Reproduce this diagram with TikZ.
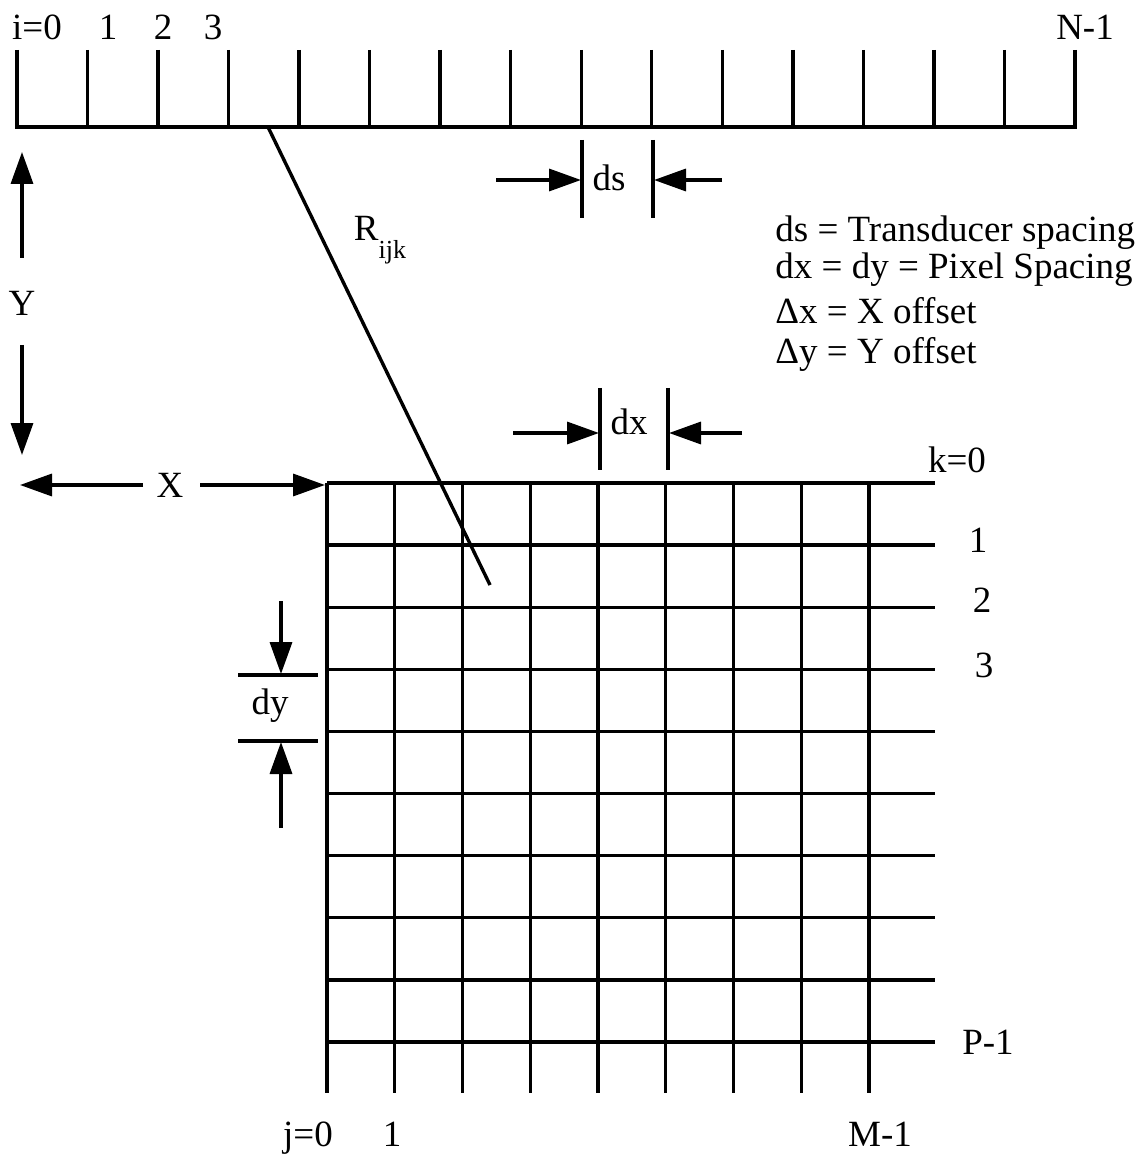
\documentclass[tikz,border=0pt]{standalone}
\usepackage{fontspec}
\setmainfont{Liberation Serif}
\usepackage{tikz}
\usetikzlibrary{arrows.meta,positioning,calc}
\tikzstyle{lbl}=[inner sep=1pt, font=\fontsize{18.5}{21}\selectfont]
\tikzstyle{legend}=[lbl, anchor=west]
\tikzstyle{ln}=[line width=1.7pt]
\tikzstyle{arr}=[-{Triangle[length=16pt,width=11pt]}, line width=1.7pt]

\begin{document}
\begin{tikzpicture}[x=0.5pt, y=-0.5pt]
  \useasboundingbox (0,0) rectangle (1146,1154);

  % ── transducer array ───────────────────────────────────────────────────────
  \draw[ln] (15,127) -- (1077,127);
  \foreach \i in {0,...,15}
    \draw[ln] ({17+70.53*\i},50) -- ({17+70.53*\i},127);

  \node[lbl] (i0)  at (37,27)   {i=0};
  \node[lbl] (i1)  at (108,27)  {1};
  \node[lbl] (i2)  at (163,27)  {2};
  \node[lbl] (i3)  at (213,27)  {3};
  \node[lbl] (iN)  at (1085,27) {N-1};

  % ── ds marker ──────────────────────────────────────────────────────────────
  \draw[ln] (582,140) -- (582,218);
  \draw[ln] (653,140) -- (653,218);
  \node[lbl] (ds) at (609,178) {ds};
  \coordinate (dsa) at (496,180);  \coordinate (dsb) at (581,180);
  \coordinate (dsc) at (722,180);  \coordinate (dsd) at (654,180);
  \draw[arr] (dsa) -- (dsb);
  \draw[arr] (dsc) -- (dsd);

  % ── legend ─────────────────────────────────────────────────────────────────
  \node[legend] (leg1) at (773,233) {ds = Transducer spacing};
  \node[legend] (leg2) at (773,270) {dx = dy = Pixel Spacing};
  \node[legend] (leg3) at (773,311) {Δx = X offset};
  \node[legend] (leg4) at (773,354) {Δy = Y offset};

  % ── range line ─────────────────────────────────────────────────────────────
  \coordinate (rtop) at (268,127);
  \coordinate (rbot) at (490,585);
  \draw[ln] (rtop) -- (rbot);
  \node[lbl] (rijk) at (380,240) {R\raisebox{-1.1ex}{\fontsize{13}{15}\selectfont ijk}};

  % ── Y and X offsets ────────────────────────────────────────────────────────
  \node[lbl] (ylab) at (22,303) {Y};
  \coordinate (ya) at (22,258);  \coordinate (yb) at (22,152);
  \coordinate (yc) at (22,345);  \coordinate (yd) at (22,455);
  \draw[arr] (ya) -- (yb);
  \draw[arr] (yc) -- (yd);

  \node[lbl] (xlab) at (170,485) {X};
  \coordinate (xa) at (143,485);  \coordinate (xb) at (20,485);
  \coordinate (xc) at (200,485);  \coordinate (xd) at (325,485);
  \draw[arr] (xa) -- (xb);
  \draw[arr] (xc) -- (xd);

  % ── pixel grid ─────────────────────────────────────────────────────────────
  \foreach \j in {0,...,8}
    \draw[ln] ({327+67.75*\j},483) -- ({327+67.75*\j},1093);
  \foreach \k in {0,...,9}
    \draw[ln] (327,{483+62.1*\k}) -- (935,{483+62.1*\k});

  \node[lbl] (k0) at (957,460)  {k=0};
  \node[lbl] (k1) at (978,540)  {1};
  \node[lbl] (k2) at (982,600)  {2};
  \node[lbl] (k3) at (984,665)  {3};
  \node[lbl] (kP) at (988,1042) {P-1};

  \node[lbl, anchor=base] (j0) at (308,1146) {j=0};
  \node[lbl, anchor=base] (j1) at (392,1146) {1};
  \node[lbl, anchor=base] (jM) at (880,1146) {M-1};

  % ── dx marker ──────────────────────────────────────────────────────────────
  \draw[ln] (600,388) -- (600,470);
  \draw[ln] (668,388) -- (668,470);
  \node[lbl] (dx) at (629,422) {dx};
  \coordinate (dxa) at (513,433);  \coordinate (dxb) at (599,433);
  \coordinate (dxc) at (742,433);  \coordinate (dxd) at (669,433);
  \draw[arr] (dxa) -- (dxb);
  \draw[arr] (dxc) -- (dxd);

  % ── dy marker ──────────────────────────────────────────────────────────────
  \draw[ln] (238,675) -- (318,675);
  \draw[ln] (238,741) -- (318,741);
  \node[lbl] (dy) at (270,706) {dy};
  \coordinate (dya) at (281,601);  \coordinate (dyb) at (281,674);
  \coordinate (dyc) at (281,828);  \coordinate (dyd) at (281,742);
  \draw[arr] (dya) -- (dyb);
  \draw[arr] (dyc) -- (dyd);

\end{tikzpicture}
\end{document}
